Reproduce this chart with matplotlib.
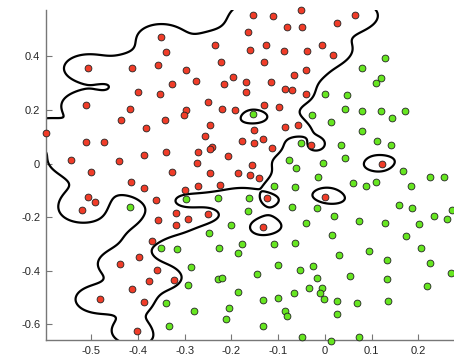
import numpy as np
import matplotlib.pyplot as plt

plt.rcParams['font.family'] = ['Liberation Sans', 'DejaVu Sans']
plt.rc('axes', unicode_minus=False)

# class 1 (red)
red_x = [-0.506, -0.413, -0.356, -0.399, -0.353, -0.511, -0.417, -0.436, -0.350, -0.153,
         -0.112, -0.051, -0.164, -0.081, -0.048, -0.234, -0.127, -0.340, -0.160, -0.088,
         -0.038, -0.222, -0.130, -0.298, -0.066, -0.041, -0.326, -0.275, -0.197, -0.216,
         -0.168, -0.115, -0.168, -0.085, -0.070, -0.041, -0.250, -0.130, -0.098, -0.297,
         -0.302, -0.219, -0.192, -0.343, 0.064, 0.025, -0.006, 0.018, -0.597, -0.382,
         -0.510, -0.473, -0.543, -0.440, -0.386, -0.500, -0.415, -0.386, -0.506, -0.491,
         -0.519, -0.362, -0.356, -0.246, -0.256, -0.151, -0.085, -0.058, -0.178, -0.151,
         -0.132, -0.242, -0.246, -0.340, -0.271, -0.207, -0.113, -0.273, -0.155, -0.326,
         -0.246, -0.186, -0.160, -0.141, -0.271, -0.224, -0.300, -0.124, -0.318, -0.251,
         -0.293, -0.318, -0.132, -0.029, 0.121, 0.001, -0.370, -0.397, -0.438, -0.360,
         -0.376, -0.412, -0.482, -0.386, -0.402, -0.322]
red_y = [0.355, 0.355, 0.368, 0.266, 0.258, 0.218, 0.202, 0.164, 0.471, 0.554,
         0.550, 0.573, 0.492, 0.508, 0.508, 0.442, 0.442, 0.417, 0.424, 0.421,
         0.421, 0.378, 0.378, 0.349, 0.331, 0.349, 0.296, 0.309, 0.323, 0.296,
         0.304, 0.304, 0.266, 0.278, 0.273, 0.259, 0.231, 0.219, 0.212, 0.200,
         0.180, 0.202, 0.199, 0.164, 0.554, 0.523, 0.443, 0.405, 0.115, 0.134,
         0.079, 0.079, 0.013, 0.009, 0.032, -0.033, -0.069, -0.090, -0.126, -0.144,
         -0.174, -0.137, -0.211, 0.144, 0.104, 0.125, 0.137, 0.144, 0.085, 0.075,
         0.090, 0.060, 0.054, 0.042, 0.042, 0.028, 0.057, 0.003, -0.007, -0.033,
         -0.037, -0.037, -0.043, -0.053, -0.084, -0.080, -0.099, -0.128, -0.185, -0.188,
         -0.207, -0.228, -0.236, 0.069, -0.003, -0.126, -0.289, -0.350, -0.376, -0.397,
         -0.437, -0.467, -0.507, -0.516, -0.625, -0.435]

# class 2 (green)
green_x = [-0.153, 0.128, 0.080, 0.119, 0.109, 0.000, 0.048, 0.043, 0.080, 0.119,
           0.172, 0.144, -0.027, 0.012, -0.417, -0.052, -0.077, -0.062, -0.108, -0.064,
           -0.296, -0.229, -0.162, -0.165, -0.071, -0.201, -0.040, 0.080, 0.111, 0.142,
           0.035, 0.043, -0.004, 0.167, -0.014, 0.060, 0.087, 0.109, 0.183, 0.225,
           0.255, 0.158, 0.187, 0.271, -0.017, 0.020, 0.072, 0.128, 0.201, 0.233,
           0.261, -0.350, -0.316, -0.248, -0.226, -0.178, -0.186, -0.108, -0.065, -0.286,
           -0.229, -0.219, -0.145, -0.100, -0.054, -0.293, -0.186, -0.033, -0.340, -0.279,
           -0.206, -0.211, -0.132, -0.100, -0.067, -0.085, -0.081, -0.333, -0.132, -0.048,
           0.016, 0.173, 0.205, 0.030, 0.095, 0.132, 0.224, -0.025, -0.016, 0.053,
           0.132, 0.269, -0.006, -0.011, -0.002, 0.026, 0.068, 0.135, 0.218, 0.026,
           0.012, 0.072]
green_y = [0.183, 0.393, 0.355, 0.320, 0.299, 0.258, 0.254, 0.204, 0.195, 0.195,
           0.195, 0.170, 0.180, 0.154, -0.161, 0.078, 0.013, -0.016, -0.084, -0.088,
           -0.134, -0.128, -0.128, -0.176, -0.163, -0.231, -0.221, 0.121, 0.085, 0.069,
           0.069, 0.021, 0.003, -0.027, -0.051, -0.073, -0.084, -0.069, -0.084, -0.051,
           -0.051, -0.156, -0.167, -0.174, -0.167, -0.196, -0.214, -0.221, -0.224, -0.196,
           -0.206, -0.315, -0.319, -0.258, -0.314, -0.300, -0.333, -0.300, -0.298, -0.387,
           -0.431, -0.427, -0.412, -0.379, -0.398, -0.454, -0.479, -0.466, -0.521, -0.549,
           -0.538, -0.581, -0.509, -0.503, -0.483, -0.550, -0.568, -0.607, -0.607, -0.646,
           -0.267, -0.271, -0.314, -0.343, -0.325, -0.361, -0.372, -0.382, -0.426, -0.419,
           -0.431, -0.409, -0.466, -0.484, -0.506, -0.513, -0.521, -0.513, -0.458, -0.560,
           -0.661, -0.646]

xticks = [-0.5, -0.4, -0.3, -0.2, -0.1, 0, 0.1, 0.2]
yticks = [-0.6, -0.4, -0.2, 0, 0.2, 0.4]

# rbf kernel classifier -> decision boundary
sigma, lam, b0 = 0.036, 0.5, -0.3
pts = np.c_[np.r_[red_x, green_x], np.r_[red_y, green_y]]
lab = np.r_[np.ones(len(red_x)), -np.ones(len(green_x))]
d2 = ((pts[:, None, :] - pts[None, :, :]) ** 2).sum(-1)
K = np.exp(-d2 / (2 * sigma ** 2))
alpha = np.linalg.solve(K + lam * np.eye(len(pts)), lab - b0)

xx, yy = np.meshgrid(np.linspace(-0.6, 0.28, 260), np.linspace(-0.67, 0.58, 360))
f = np.full(xx.shape, b0)
for (x0, y0), a in zip(pts, alpha):
    f += a * np.exp(-((xx - x0) ** 2 + (yy - y0) ** 2) / (2 * sigma ** 2))

fig = plt.figure(figsize=(4.54, 3.6), dpi=100)
ax = fig.add_axes([0.1007, 0.0556, 0.8993, 0.9166])
ax.contour(xx, yy, f, levels=[0], colors='k', linewidths=1.6)
ax.scatter(red_x, red_y, s=24, c='#f03c28', edgecolors='#222222', linewidths=0.6,
           zorder=3, clip_on=False)
ax.scatter(green_x, green_y, s=24, c='#66e620', edgecolors='#222222', linewidths=0.6,
           zorder=3, clip_on=False)

ax.set_xlim(-0.597, 0.276)
ax.set_ylim(-0.6586, 0.5728)
ax.set_xticks(xticks)
ax.set_yticks(yticks)
ax.set_xticklabels(['%g' % t for t in xticks])
ax.set_yticklabels(['%g' % t for t in yticks])
for side in ['top', 'right']:
    ax.spines[side].set_visible(False)
for side in ['left', 'bottom']:
    ax.spines[side].set_color('#777777')
    ax.spines[side].set_linewidth(1.0)
ax.tick_params(direction='in', length=4, width=0.8, color='#777777',
               labelsize=8, labelcolor='#262626', pad=4)

fig.savefig('out.png')
